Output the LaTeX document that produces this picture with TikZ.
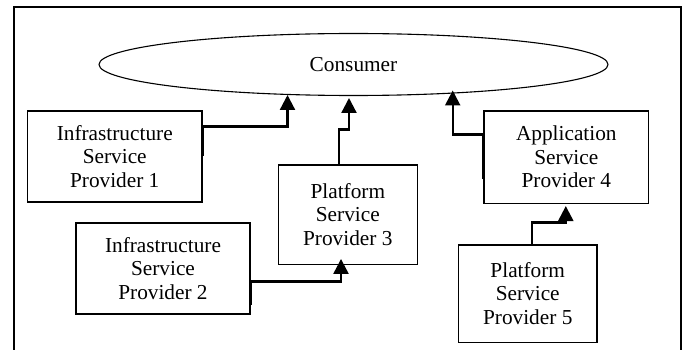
\documentclass[tikz,border=0pt]{standalone}
\usepackage{fontspec}
\setmainfont{Liberation Serif}
\usetikzlibrary{arrows.meta,calc,shapes.geometric}
\begin{document}
\begin{tikzpicture}[x=1pt,y=-1pt,
  every node/.style={font=\fontsize{21.3pt}{23.5pt}\selectfont},
  box/.style={draw,line width=1.4pt,rectangle,align=center,inner sep=0pt},
  conn/.style={line width=2.3pt,line join=miter,-{Triangle[length=15pt,width=15pt]}},
  frame/.style={line width=1.5pt},
]
\useasboundingbox (0,0) rectangle (688,350);

% open frame around the whole diagram
\draw[frame] (14,352) -- (14,7) -- (681,7) -- (681,352);

% consumer
\node[draw,ellipse,line width=1.1pt,minimum width=509pt,minimum height=62pt,inner sep=0pt]
  (consumer) at (353.5,64.5) {Consumer};

% providers
\node[box,minimum width=174.5pt,minimum height=91pt] (sp1) at (114.75,156.5)
  {Infrastructure\\Service\\Provider 1};
\node[box,minimum width=174pt,minimum height=91pt] (sp2) at (163,268.5)
  {Infrastructure\\Service\\Provider 2};
\node[box,minimum width=139pt,minimum height=99.3pt] (sp3) at (347.8,214.6)
  {Platform\\Service\\Provider 3};
\node[box,minimum width=164.7pt,minimum height=92.3pt] (sp4) at (566.3,157.2)
  {Application\\Service\\Provider 4};
\node[box,minimum width=138.5pt,minimum height=97.3pt] (sp5) at (527.75,293.6)
  {Platform\\Service\\Provider 5};

% service flows
\draw[conn] (sp1.east) |- ($(consumer.center)+(-66,62)$)
  -- ($(consumer.center)+(-66,30.5)$);
\draw[conn] ([xshift=-8.5pt]sp3.north) |- ($(consumer.center)+(-4.5,65)$)
  -- ($(consumer.center)+(-4.5,33.5)$);
\draw[conn] ([yshift=-22pt]sp4.west) |- ($(consumer.center)+(99.2,70)$)
  -- ($(consumer.center)+(99.2,26)$);
\draw[conn] ([yshift=-36.5pt]sp2.east) |- ([xshift=-6.8pt,yshift=-16.4pt]sp3.south)
  -- ([xshift=-6.8pt,yshift=6pt]sp3.south);
\draw[conn] ([xshift=4pt]sp5.north) |- ([xshift=-0.5pt,yshift=-18.5pt]sp4.south)
  -- ([xshift=-0.5pt,yshift=-2pt]sp4.south);
\end{tikzpicture}
\end{document}
